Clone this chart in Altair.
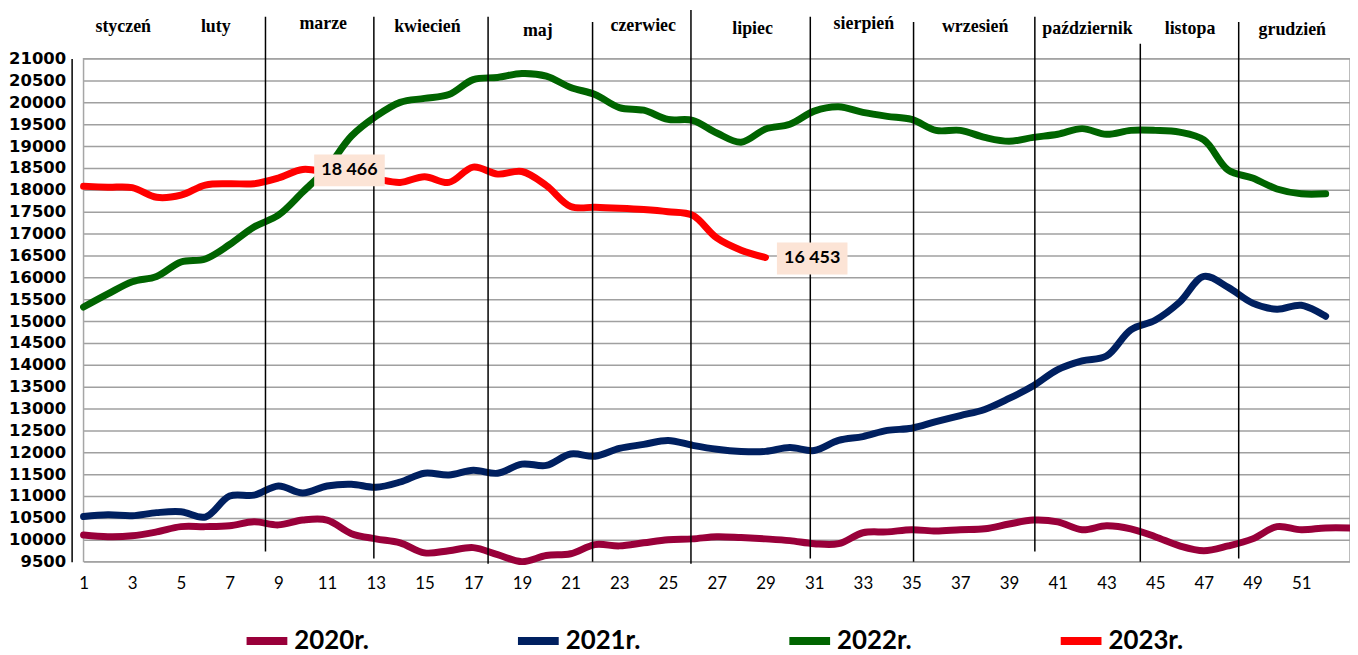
import altair as alt
import pandas as pd

# ---- data ----
series_names = ["2020r.", "2021r.", "2022r.", "2023r."]
series_colors = ["#99003A", "#002060", "#006400", "#FF0000"]

values_2020 = [10110, 10070, 10090, 10180, 10300, 10300, 10320, 10410, 10340, 10450,
               10450, 10140, 10020, 9930, 9700, 9750, 9820, 9660, 9500, 9640,
               9680, 9890, 9860, 9930, 10000, 10020, 10070, 10050, 10020, 9980,
               9910, 9910, 10160, 10180, 10230, 10200, 10230, 10250, 10360, 10450,
               10410, 10230, 10320, 10250, 10070, 9860, 9750, 9860, 10020, 10300,
               10230, 10270, 10270]
values_2021 = [10530, 10570, 10550, 10620, 10640, 10520, 11000, 11020, 11230, 11070,
               11230, 11270, 11200, 11320, 11520, 11480, 11590, 11520, 11730, 11700,
               11960, 11910, 12090, 12180, 12270, 12160, 12070, 12020, 12020, 12110,
               12040, 12270, 12360, 12500, 12550, 12700, 12840, 12980, 13230, 13520,
               13890, 14090, 14200, 14800, 15020, 15430, 16020, 15770, 15410, 15270,
               15360, 15110]
values_2022 = [15320, 15620, 15900, 16020, 16350, 16420, 16750, 17150, 17420, 17950,
               18500, 19230, 19680, 20000, 20090, 20180, 20520, 20570, 20660, 20600,
               20340, 20180, 19880, 19820, 19610, 19590, 19300, 19090, 19390, 19500,
               19800, 19900, 19770, 19680, 19610, 19360, 19360, 19200, 19110, 19200,
               19270, 19400, 19270, 19360, 19360, 19320, 19140, 18450, 18270, 18020,
               17910, 17910]
values_2023 = [18080, 18060, 18050, 17830, 17880, 18110, 18140, 18140, 18270, 18466,
               18400, 18330, 18250, 18170, 18300, 18170, 18520, 18360, 18420, 18100,
               17620, 17600, 17580, 17550, 17500, 17420, 16900, 16620, 16453]

x_tick_labels = list(range(1, 52, 2))
y_tick_values = list(range(9500, 21001, 500))

# annotated points
ann_weeks = [10, 29]
ann_values = [18466, 16453]
ann_labels = ["18 466", "16 453"]

# month header labels (week position, value height above plot)
month_names = ["styczeń", "luty", "marze", "kwiecień", "maj", "czerwiec", "lipiec",
               "sierpień", "wrzesień", "październik", "listopa", "grudzień"]
month_label_weeks = [2.63, 6.43, 10.84, 15.12, 19.65, 23.98, 28.47, 33.04, 37.61, 42.22, 46.43, 50.63]
month_label_levels = [21727, 21727, 21795, 21727, 21640, 21750, 21682, 21795, 21727, 21682, 21682, 21660]

# hand-drawn month separators
sep_weeks = [8.47, 12.92, 17.61, 21.90, 25.94, 30.84, 35.08, 40.06, 44.39, 48.43]
sep_top = [21955, 21955, 21955, 21840, 22110, 21955, 21840, 21955, 21340, 21840]
sep_bottom = [9730, 9570, 9450, 9500, 9450, 9570, 9500, 9730, 9500, 9570]

# ---- tables ----
rows = []
for name, vals in zip(series_names, [values_2020, values_2021, values_2022, values_2023]):
    for i, v in enumerate(vals):
        rows.append({"week": i + 1, "value": v, "series": name})
df = pd.DataFrame(rows)

df_ann = pd.DataFrame({"week": ann_weeks, "value": ann_values, "label": ann_labels})
df_month = pd.DataFrame({"week": month_label_weeks, "value": month_label_levels, "label": month_names})
df_sep = pd.DataFrame({"week": sep_weeks, "top": sep_top, "bottom": sep_bottom})

x_scale = alt.Scale(domain=[1, 53], nice=False, zero=False)
y_scale = alt.Scale(domain=[9500, 21000], nice=False, zero=False)

x_axis = alt.Axis(values=x_tick_labels, grid=False, domain=False, ticks=False,
                  labelFont="Lato", labelFontSize=17, labelColor="#000000",
                  labelPadding=14, title=None, labelFlush=False,
                  labelOverlap=False, format="d")
y_axis = alt.Axis(values=y_tick_values, grid=True, gridColor="#A0A0A0", gridWidth=1.5,
                  domain=True, domainColor="#000000", domainWidth=1.5, offset=12,
                  ticks=False, labelFont="DejaVu Sans", labelFontWeight="bold",
                  labelFontSize=16.5, labelColor="#000000", labelPadding=6,
                  title=None, labelFlush=False, labelOverlap=False,
                  labelBound=False, format="d")

x_enc = alt.X("week:Q", scale=x_scale, axis=x_axis)
y_enc = alt.Y("value:Q", scale=y_scale, axis=y_axis)

seps = alt.Chart(df_sep).mark_rule(color="#000000", strokeWidth=1.5, clip=False).encode(
    x=x_enc,
    y=alt.Y("top:Q", scale=y_scale, axis=y_axis),
    y2="bottom:Q",
)

lines = alt.Chart(df).mark_line(strokeWidth=7, interpolate="catmull-rom", clip=False,
                                 strokeCap="round").encode(
    x=x_enc,
    y=y_enc,
    color=alt.Color("series:N",
                    scale=alt.Scale(domain=series_names, range=series_colors),
                    legend=alt.Legend(orient="none", legendX=160, legendY=561,
                                      direction="horizontal", title=None,
                                      symbolType="stroke", symbolSize=1681,
                                      symbolStrokeWidth=8, labelFont="Lato",
                                      labelFontWeight="bold", labelFontSize=26,
                                      labelColor="#000000", labelOffset=3,
                                      columnPadding=133, labelLimit=200)),
    detail="series:N",
    order="week:Q",
)

boxes = alt.Chart(df_ann).mark_point(
    shape="M-1,-0.45L1,-0.45L1,0.45L-1,0.45Z", size=71 * 71, filled=True,
    fill="#FCE4D6", opacity=1, strokeWidth=0, xOffset=47, yOffset=1, clip=False,
).encode(x=x_enc, y=y_enc)

ann_text = alt.Chart(df_ann).mark_text(
    font="Lato", fontWeight="bold", fontSize=18, color="#000000",
    dx=47, dy=1, align="center", baseline="middle", clip=False,
).encode(x=x_enc, y=y_enc, text="label:N")

months = alt.Chart(df_month).mark_text(
    font="Liberation Serif", fontWeight="bold", fontSize=18, color="#000000",
    align="center", baseline="middle", clip=False,
).encode(x=x_enc, y=y_enc, text="label:N")

chart = alt.layer(lines, seps, boxes, ann_text, months).properties(
    width=1274, height=506,
    autosize=alt.AutoSizeParams(type="none"),
    padding={"left": 76, "top": 49, "right": 0, "bottom": 92},
    background="#FFFFFF",
).configure_view(stroke="#A6A6A6", strokeWidth=1.5
).configure_axisY(labelOverlap=False)

chart.save("out.html", embed_options={"renderer": "svg", "actions": False})
